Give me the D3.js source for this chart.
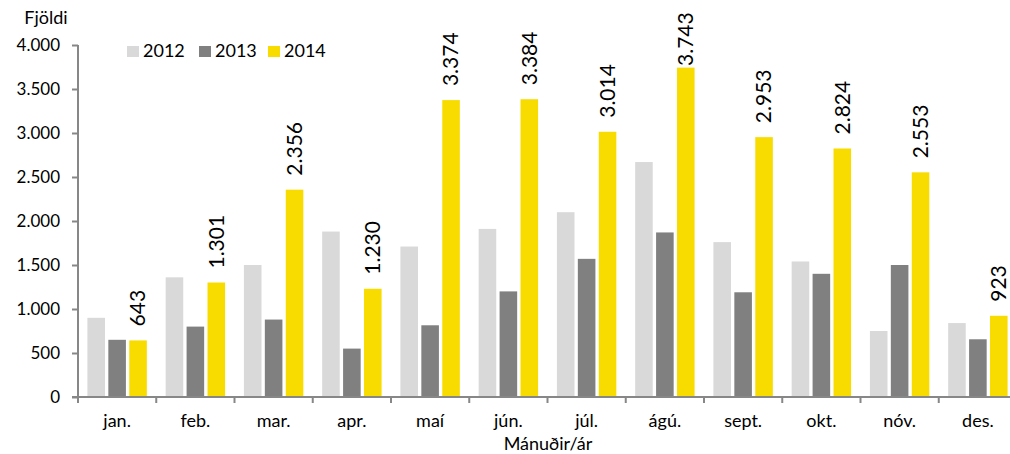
<!DOCTYPE html>
<html>
<head>
<meta charset="utf-8">
<script src="https://cdn.jsdelivr.net/npm/d3@7"></script>
<style>
body { margin: 0; background: #fff; }
text { font-family: Lato, "Open Sans", sans-serif; fill: #000; }
</style>
</head>
<body>
<div id="chart"></div>
<script>
var months = ["jan.", "feb.", "mar.", "apr.", "maí", "jún.", "júl.", "ágú.", "sept.", "okt.", "nóv.", "des."];
var years = ["2012", "2013", "2014"];
var values2012 = [900, 1360, 1500, 1880, 1710, 1910, 2100, 2670, 1760, 1540, 750, 840];
var values2013 = [650, 800, 880, 550, 815, 1200, 1570, 1870, 1190, 1400, 1500, 656];
var values2014 = [643, 1301, 2356, 1230, 3374, 3384, 3014, 3743, 2953, 2824, 2553, 923];
var yTicks = [0, 500, 1000, 1500, 2000, 2500, 3000, 3500, 4000];

var colors = {"2012": "#d9d9d9", "2013": "#808080", "2014": "#f8dc00"};
var series = {"2012": values2012, "2013": values2013, "2014": values2014};

var W = 1010, H = 454;
var plot = {left: 78, right: 1017, top: 45, bottom: 397};

var fmt = function(v){
    return d3.format(",")(v).replace(/,/g, ".");
}

var svg = d3.select("#chart").append("svg")
    .attr("width", W)
    .attr("height", H);

var x = d3.scaleBand()
    .domain(months)
    .range([plot.left, plot.right])
    .paddingInner(0)
    .paddingOuter(0);

var xInner = d3.scaleBand()
    .domain(years)
    .range([0, x.bandwidth()])
    .paddingInner(0.16)
    .paddingOuter(0.45);

var y = d3.scaleLinear()
    .domain([0, 4000])
    .range([plot.bottom, plot.top]);

// bars
var groups = svg.selectAll("g.month")
    .data(months)
    .enter().append("g")
    .attr("class", "month")
    .attr("transform", function(d){ return "translate(" + x(d) + ",0)"; });

groups.selectAll("rect")
    .data(function(d, i){
        return years.map(function(yr){ return {year: yr, value: series[yr][i]}; });
    })
    .enter().append("rect")
    .attr("x", function(d){ return xInner(d.year); })
    .attr("y", function(d){ return y(d.value); })
    .attr("width", xInner.bandwidth())
    .attr("height", function(d){ return y(0) - y(d.value); })
    .attr("fill", function(d){ return colors[d.year]; });

// axes
var yAxis = svg.append("g")
    .attr("transform", "translate(" + plot.left + ",0)")
    .call(d3.axisLeft(y).tickValues(yTicks).tickSize(6).tickPadding(12).tickFormat(fmt));

var xAxis = svg.append("g")
    .attr("transform", "translate(0," + plot.bottom + ")")
    .call(d3.axisBottom(x).tickSize(0).tickPadding(17));

// category boundary ticks
xAxis.selectAll("line.bound")
    .data(months)
    .enter().append("line")
    .attr("class", "bound")
    .attr("x1", function(d){ return x(d); })
    .attr("x2", function(d){ return x(d); })
    .attr("y1", 0)
    .attr("y2", 6);

svg.selectAll(".domain, .tick line, line.bound")
    .attr("stroke", "#878787")
    .attr("stroke-width", 2);
yAxis.select(".domain").attr("d", "M0," + plot.top + "V" + plot.bottom);
xAxis.select(".domain").attr("d", "M" + (plot.left - 6) + ",0H" + plot.right);

svg.selectAll(".tick text")
    .style("font-family", "Lato, 'Open Sans', sans-serif")
    .attr("fill", "#000");
yAxis.selectAll(".tick text").style("font-size", "17px");
xAxis.selectAll(".tick text").style("font-size", "18px");

// value labels on 2014 bars
svg.selectAll("text.val")
    .data(values2014)
    .enter().append("text")
    .attr("class", "val")
    .attr("transform", function(d, i){
        var cx = x(months[i]) + xInner("2014") + xInner.bandwidth() / 2;
        var ty = Math.max(y(d) - 14, 66);
        return "translate(" + cx + "," + ty + ") rotate(-90)";
    })
    .attr("dy", "0.35em")
    .style("font-size", "21px")
    .text(function(d){ return fmt(d); });

// axis titles
svg.append("text")
    .attr("x", 46)
    .attr("y", 24)
    .attr("text-anchor", "middle")
    .style("font-size", "18px")
    .text("Fjöldi");

svg.append("text")
    .attr("x", 548)
    .attr("y", 450)
    .attr("text-anchor", "middle")
    .style("font-size", "18px")
    .text("Mánuðir/ár");

// legend
var legend = svg.selectAll("g.legend")
    .data(years)
    .enter().append("g")
    .attr("class", "legend")
    .attr("transform", function(d, i){ return "translate(" + [127, 199, 268][i] + ",46)"; });

legend.append("rect")
    .attr("width", 12)
    .attr("height", 11)
    .attr("fill", function(d){ return colors[d]; });

legend.append("text")
    .attr("x", 16)
    .attr("y", 11)
    .style("font-size", "18px")
    .text(function(d){ return d; });
</script>
</body>
</html>
